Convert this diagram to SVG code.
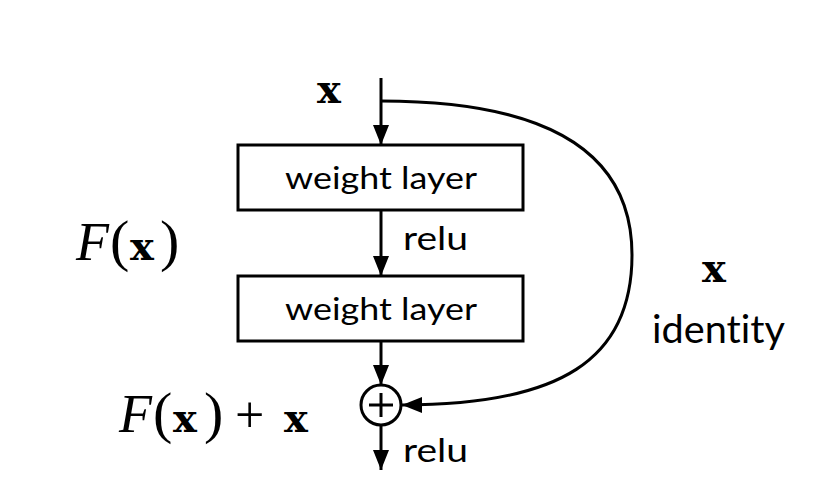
<svg xmlns="http://www.w3.org/2000/svg" width="831" height="482" viewBox="0 0 831 482">
<defs>
<marker id="ah" markerWidth="20" markerHeight="16" refX="20" refY="8" orient="auto" markerUnits="userSpaceOnUse">
<path d="M0,0 L20,8 L0,16 Z" fill="#000"/>
</marker>
<style>
.box{fill:#fff;stroke:#000;stroke-width:3}
.ln{fill:none;stroke:#000;stroke-width:3}
.sans{font-family:"Lato","Open Sans","Liberation Sans",sans-serif;fill:#000;font-variant-ligatures:none}
.wl{font-size:31px}
.math{font-family:"Liberation Serif","DejaVu Serif",serif;fill:#000}
.F{font-style:italic;font-size:54px}
.p{font-size:58px}
.bx{font-family:"DejaVu Serif","Liberation Serif",serif;font-weight:bold;font-size:40px;fill:#000}
</style>
</defs>
<rect width="831" height="482" fill="#fff"/>
<g id="connectors">
<line class="ln" x1="381" y1="78" x2="381" y2="145" marker-end="url(#ah)"/>
<line class="ln" x1="381" y1="210" x2="381" y2="276" marker-end="url(#ah)"/>
<line class="ln" x1="381" y1="341" x2="381" y2="385" marker-end="url(#ah)"/>
<line class="ln" x1="381" y1="425" x2="381" y2="470" marker-end="url(#ah)"/>
<path class="ln" d="M381,101 C560,101 632,160 632,255 C632,360 560,405 402,405" marker-end="url(#ah)"/>
</g>
<g id="input-x"><text class="bx" x="329" y="103" text-anchor="middle">x</text></g>
<g id="layer1">
<rect class="box" x="238" y="145" width="285" height="65"/>
<text class="sans wl" x="285" y="189" textLength="192" lengthAdjust="spacingAndGlyphs">weight layer</text>
</g>
<g id="relu1"><text class="sans" x="403" y="250" font-size="32" textLength="65" lengthAdjust="spacingAndGlyphs">relu</text></g>
<g id="layer2">
<rect class="box" x="238" y="276" width="285" height="65"/>
<text class="sans wl" x="285" y="320" textLength="192" lengthAdjust="spacingAndGlyphs">weight layer</text>
</g>
<g id="sum">
<circle class="ln" cx="381" cy="405" r="20"/>
<line class="ln" x1="369" y1="405" x2="393" y2="405"/>
<line class="ln" x1="381" y1="393" x2="381" y2="417"/>
</g>
<g id="relu2"><text class="sans" x="403" y="462" font-size="32" textLength="65" lengthAdjust="spacingAndGlyphs">relu</text></g>
<g id="Fx">
<text class="math F" x="76" y="260">F</text>
<text class="math p" x="110" y="260">(</text>
<text class="bx" x="130" y="260">x</text>
<text class="math p" x="160" y="260">)</text>
</g>
<g id="Fxpx">
<text class="math F" x="119" y="432">F</text>
<text class="math p" x="153" y="432">(</text>
<text class="bx" x="173" y="432">x</text>
<text class="math p" x="204" y="432">)</text>
<text class="math" x="235" y="432" font-size="52">+</text>
<text class="bx" x="284" y="432">x</text>
</g>
<g id="identity">
<text class="bx" x="714" y="282" text-anchor="middle">x</text>
<text class="sans" x="652" y="343" font-size="38" textLength="133" lengthAdjust="spacingAndGlyphs">identity</text>
</g>
</svg>
